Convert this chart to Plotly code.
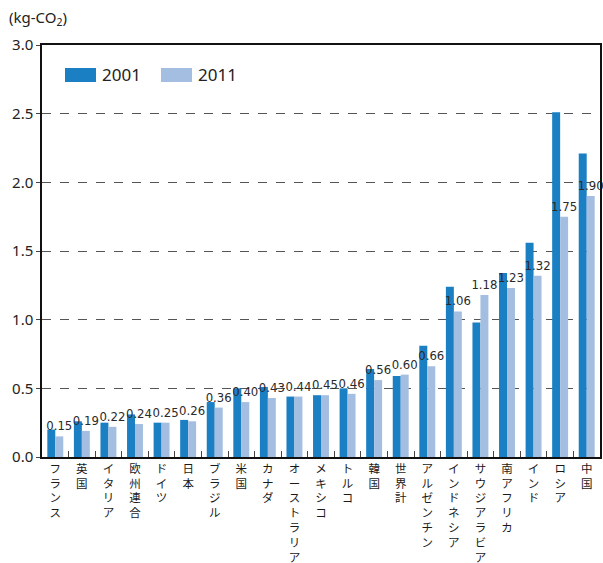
import plotly.graph_objects as go

# Per-capita CO2 emissions by country (kg-CO2)
countries = ["フランス", "英国", "イタリア", "欧州連合", "ドイツ", "日本", "ブラジル", "米国",
             "カナダ", "オーストラリア", "メキシコ", "トルコ", "韓国", "世界計", "アルゼンチン",
             "インドネシア", "サウジアラビア", "南アフリカ", "インド", "ロシア", "中国"]
values_2001 = [0.20, 0.26, 0.25, 0.31, 0.25, 0.27, 0.40, 0.50, 0.51, 0.44, 0.45,
               0.50, 0.64, 0.59, 0.81, 1.24, 0.98, 1.34, 1.56, 2.51, 2.21]
values_2011 = [0.15, 0.19, 0.22, 0.24, 0.25, 0.26, 0.36, 0.40, 0.43, 0.44, 0.45,
               0.46, 0.56, 0.60, 0.66, 1.06, 1.18, 1.23, 1.32, 1.75, 1.90]
y_ticks = [0.0, 0.5, 1.0, 1.5, 2.0, 2.5, 3.0]

COLOR_2001 = "#1B7FC4"
COLOR_2011 = "#A4BEE2"

fig = go.Figure()
fig.add_trace(go.Bar(x=countries, y=values_2001, name="2001",
                     marker=dict(color=COLOR_2001, line_width=0)))
fig.add_trace(go.Bar(x=countries, y=values_2011, name="2011",
                     marker=dict(color=COLOR_2011, line_width=0),
                     texttemplate="%{y:.2f}", textposition="outside",
                     constraintext="none", cliponaxis=False,
                     textfont=dict(family="DejaVu Sans Condensed, Liberation Sans Narrow, sans-serif",
                                   size=13, color="#2a2a2a")))

# vertical (stacked character) category labels
tick_text = ["<br>".join(c) for c in countries]

fig.update_layout(
    width=603, height=563,
    margin=dict(l=42, r=3, t=45, b=106, autoexpand=False),
    paper_bgcolor="white", plot_bgcolor="white",
    barmode="group", bargap=0.4, bargroupgap=0,
    showlegend=False,
    font=dict(family="Noto Sans, sans-serif", color="#222222"),
    xaxis=dict(
        tickmode="array", tickvals=countries, ticktext=tick_text,
        tickangle=0, tickfont=dict(family="Noto Sans CJK JP", size=11.5, color="#1a1a1a"),
        ticks="inside", tickson="boundaries", ticklen=6, tickcolor="#444444",
        showline=True, linecolor="#111111", linewidth=1.5, mirror=True,
        showgrid=False, range=[-0.5, len(countries) - 0.5], automargin=False,
    ),
    yaxis=dict(
        range=[0, 3.0], tickvals=y_ticks,
        ticktext=[f"{v:.1f}" for v in y_ticks],
        tickfont=dict(family="Noto Sans, sans-serif", size=15, color="#222222"),
        ticks="outside", ticklen=4, tickcolor="#444444",
        showline=True, linecolor="#111111", linewidth=1.5, mirror=True,
        showgrid=True, gridcolor="#555555", gridwidth=1, griddash="dash",
        zeroline=False, automargin=False,
    ),
)

# unit label
fig.add_annotation(text="(kg-CO<sub>2</sub>)", xref="paper", yref="paper",
                   x=-0.062, y=1.035, xanchor="left", yanchor="bottom", showarrow=False,
                   font=dict(family="Noto Sans, sans-serif", size=15, color="#222222"))

# legend drawn as swatches with labels
legend_items = [("2001", COLOR_2001, 65), ("2011", COLOR_2011, 161)]
for label, color, px in legend_items:
    x0 = (px - 42) / 558
    x1 = (px + 31 - 42) / 558
    fig.add_shape(type="rect", xref="paper", yref="paper",
                  x0=x0, x1=x1, y0=(457 - 82) / 412, y1=(457 - 68) / 412,
                  fillcolor=color, line_width=0)
    fig.add_annotation(text=label, xref="paper", yref="paper",
                       x=x1 + 4 / 558, y=(457 - 75) / 412, xanchor="left", yanchor="middle",
                       showarrow=False,
                       font=dict(family="Noto Sans, sans-serif", size=17, color="#222222"))

fig.write_html("out.html")
